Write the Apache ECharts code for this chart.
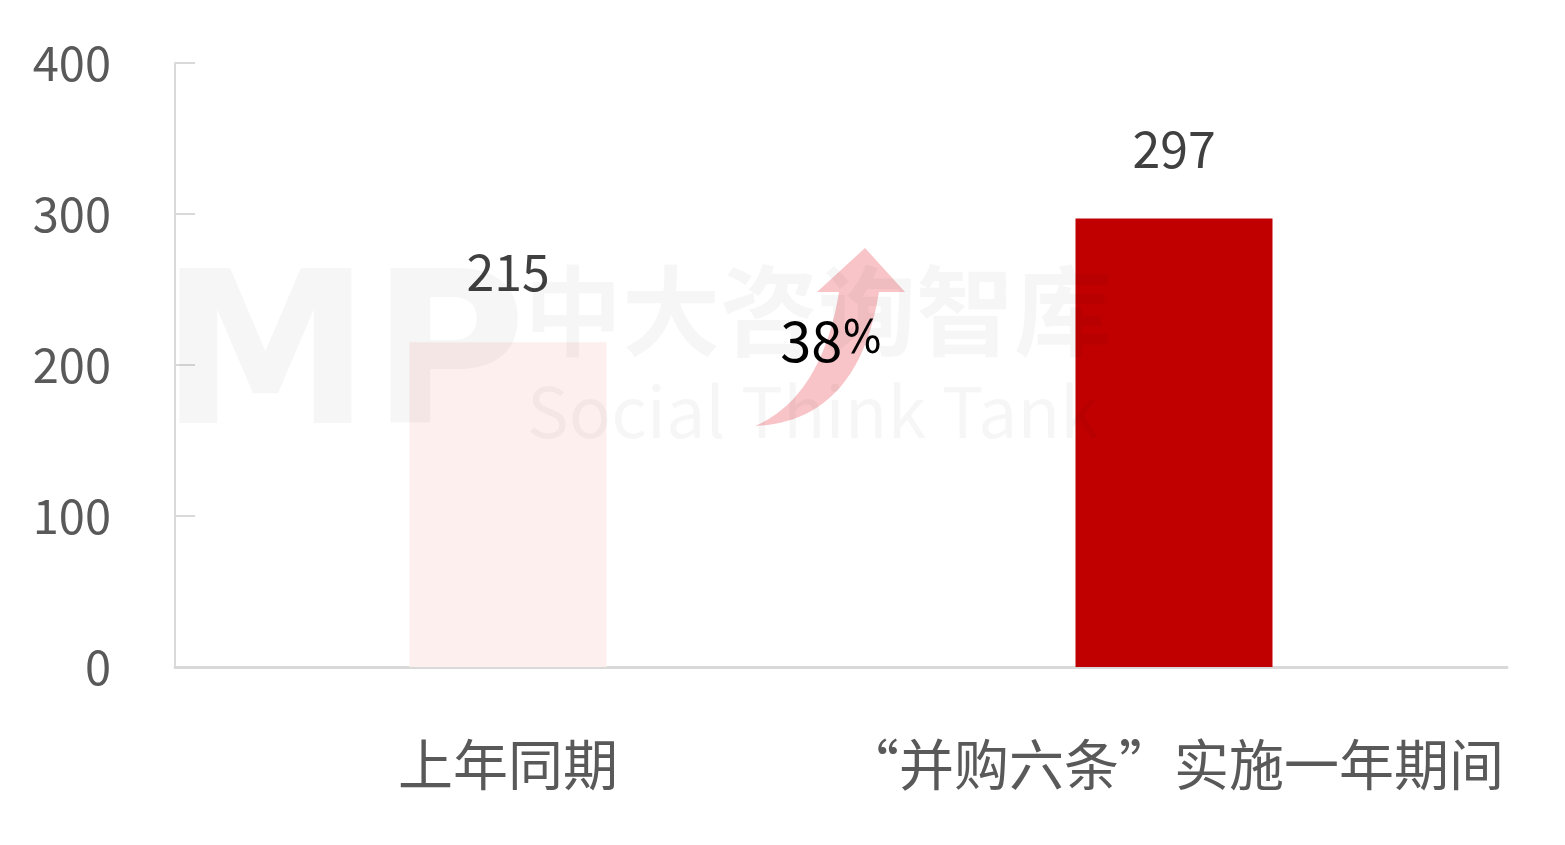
<!DOCTYPE html>
<html>
<head>
<meta charset="utf-8">
<script src="https://cdn.jsdelivr.net/npm/echarts@6/dist/echarts.min.js"></script>
<style>html,body{margin:0;padding:0;background:#fff;}#chart{width:1565px;height:845px;}</style>
</head>
<body>
<div id="chart"></div>
<script>
var categories = ['上年同期', '“并购六条”实施一年期间'];
var values = [215, 297];
var barColors = ['#FDEFEE', '#C00000'];
var yTicks = [0, 100, 200, 300, 400];
var growthLabel = '38';

var FONT = '"Noto Sans CJK SC", "Noto Sans", sans-serif';

function bez(p0, p1, p2, p3, n) {
  var pts = [];
  for (var i = 0; i <= n; i++) {
    var t = i / n, u = 1 - t;
    pts.push([
      u*u*u*p0[0] + 3*u*u*t*p1[0] + 3*u*t*t*p2[0] + t*t*t*p3[0],
      u*u*u*p0[1] + 3*u*u*t*p1[1] + 3*u*t*t*p2[1] + t*t*t*p3[1]
    ]);
  }
  return pts;
}
var arrowPts = bez([755, 426], [805, 424], [862, 398], [879, 292], 24)
  .concat([[905, 292], [865, 248], [817, 292]])
  .concat(bez([839, 292], [826, 372], [792, 410], [755, 426], 24));

var chart = echarts.init(document.getElementById('chart'));
chart.setOption({
  backgroundColor: '#ffffff',
  animation: false,
  grid: { left: 175, right: 58, top: 63, bottom: 178, containLabel: false },
  xAxis: {
    type: 'category',
    data: categories,
    axisLine: { lineStyle: { color: '#D9D9D9', width: 3 } },
    axisTick: { show: false },
    axisLabel: { interval: 0, color: '#595959', fontSize: 55, fontFamily: FONT, margin: 70 }
  },
  yAxis: {
    type: 'value',
    min: yTicks[0],
    max: yTicks[yTicks.length - 1],
    interval: 100,
    axisLine: { show: true, lineStyle: { color: '#D9D9D9', width: 2 } },
    axisTick: { show: true, inside: true, length: 20, lineStyle: { color: '#D9D9D9', width: 2 } },
    splitLine: { show: false },
    axisLabel: { color: '#595959', fontSize: 47, fontFamily: FONT, margin: 64 }
  },
  series: [{
    type: 'bar',
    barWidth: 197,
    z: 2,
    data: values.map(function (v, i) { return { value: v, itemStyle: { color: barColors[i] } }; }),
    label: {
      show: true,
      position: 'top',
      distance: 45,
      color: '#404040',
      fontSize: 50,
      fontFamily: FONT
    }
  }],
  graphic: [
    { type: 'text', z: 10, x: 160, y: 262, style: { text: 'MP', fontSize: 212, fontWeight: 900, fontFamily: '"DejaVu Sans", sans-serif', fill: 'rgba(0,0,0,0.035)' } },
    { type: 'text', z: 10, x: 524, y: 262, style: { text: '中大咨询智库', fontSize: 98, fontWeight: 'bold', fontFamily: FONT, fill: 'rgba(0,0,0,0.035)' } },
    { type: 'text', z: 10, x: 527, y: 376, style: { text: 'Social Think Tank', fontSize: 70, fontFamily: FONT, fill: 'rgba(0,0,0,0.035)' } },
    { type: 'polygon', z: 5, shape: { points: arrowPts }, style: { fill: 'rgba(244,160,164,0.62)' } },
    {
      type: 'text', z: 11, x: 831, y: 341,
      style: {
        text: '{a|' + growthLabel + '}{b|%}',
        align: 'center', verticalAlign: 'middle',
        rich: {
          a: { fontSize: 56, fontFamily: FONT, fill: '#000000' },
          b: { fontSize: 46, fontFamily: '"Liberation Sans Narrow", "DejaVu Sans Condensed", sans-serif', fill: '#000000' }
        }
      }
    }
  ]
});
</script>
</body>
</html>
